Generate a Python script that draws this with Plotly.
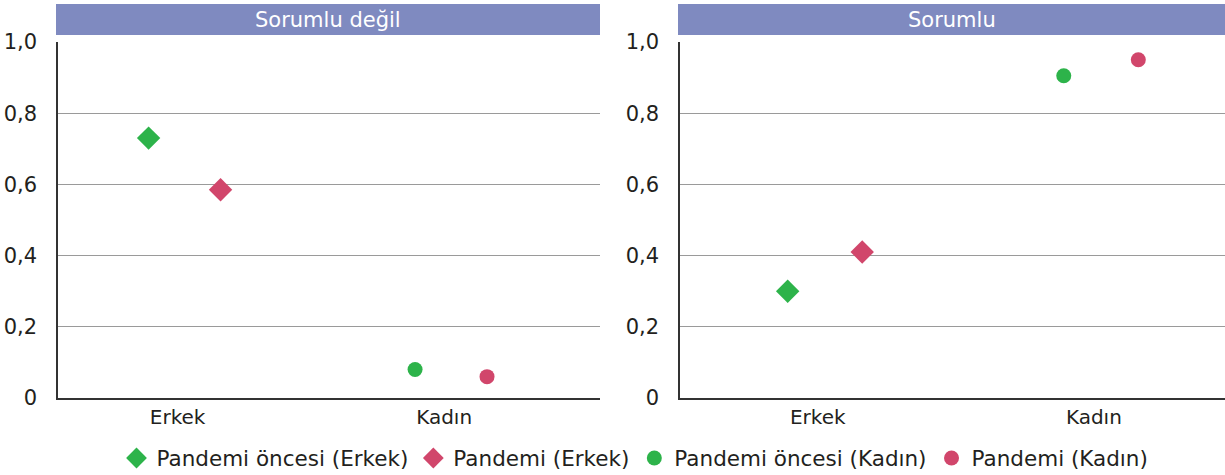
import plotly.graph_objects as go
from plotly.subplots import make_subplots

panels = ["Sorumlu değil", "Sorumlu"]
categories = ["Erkek", "Kadın"]
series_names = ["Pandemi öncesi (Erkek)", "Pandemi (Erkek)", "Pandemi öncesi (Kadın)", "Pandemi (Kadın)"]
pre_erkek = [0.73, 0.30]
pan_erkek = [0.585, 0.41]
pre_kadin = [0.08, 0.905]
pan_kadin = [0.06, 0.95]
y_ticks = [0, 0.2, 0.4, 0.6, 0.8, 1.0]
y_ticktext = ["0", "0,2", "0,4", "0,6", "0,8", "1,0"]

GREEN = "#2db34a"
RED = "#d1466b"
HEADER = "#7f8ac0"
FONT = "DejaVu Sans"
TXT = "#231f20"

W, H = 1225, 475
TOP, BOT = 42, 398
LEFT = 58
plot_h = BOT - TOP
plot_w = W - LEFT

def py(pix):
    return (BOT - pix) / plot_h

def px(pix):
    return (pix - LEFT) / plot_w

fig = make_subplots(rows=1, cols=2)

series = [
    (series_names[0], pre_erkek, 0, -1, GREEN, "diamond", 18),
    (series_names[1], pan_erkek, 0, 1, RED, "diamond", 18),
    (series_names[2], pre_kadin, 1, -1, GREEN, "circle", 15),
    (series_names[3], pan_kadin, 1, 1, RED, "circle", 15),
]
dodge = 0.135
for p in range(2):
    for name, vals, cat, side, col, sym, sz in series:
        fig.add_trace(go.Scatter(
            x=[cat + side * dodge], y=[vals[p]], mode="markers", name=name,
            legendgroup=name, showlegend=(p == 0),
            marker=dict(color=col, symbol=sym, size=sz, line=dict(width=0)),
        ), row=1, col=p + 1)

doms = [(px(58), px(600)), (px(680), 1.0)]
ranges = [(-0.475, 1.559), (-0.525, 1.449)]
label_shift = 0.026
for i in range(2):
    xa = "xaxis" if i == 0 else "xaxis2"
    ya = "yaxis" if i == 0 else "yaxis2"
    fig.layout[xa].update(domain=list(doms[i]), range=list(ranges[i]),
                          tickvals=[k - label_shift for k in range(len(categories))],
                          ticktext=categories, showgrid=False, zeroline=False,
                          showline=True, linecolor="#333333", linewidth=1.5,
                          ticks="", tickfont=dict(size=20, color=TXT, family=FONT),
                          automargin=False, fixedrange=True)
    fig.layout[ya].update(domain=[0, 1], range=[0, 1.0], tickvals=y_ticks, ticktext=y_ticktext,
                          showgrid=True, gridcolor="#9a9a9a", gridwidth=1, zeroline=False,
                          showline=True, linecolor="#333333", linewidth=1.5, ticks="",
                          ticklabelstandoff=15, automargin=False, fixedrange=True,
                          tickfont=dict(size=21, color=TXT, family=FONT))
    x0 = doms[i][0] - 2 / plot_w
    x1 = doms[i][1]
    fig.add_shape(type="rect", xref="paper", yref="paper", x0=x0, x1=x1,
                  y0=py(35), y1=py(4), fillcolor=HEADER, line=dict(width=0), layer="below")
    fig.add_annotation(xref="paper", yref="paper", x=(x0 + x1) / 2, y=py(19.5),
                       text=panels[i], showarrow=False, xanchor="center", yanchor="middle",
                       font=dict(size=21, color="white", family=FONT))

fig.update_layout(
    width=W, height=H,
    margin=dict(l=LEFT, r=0, t=TOP, b=H - BOT, autoexpand=False),
    paper_bgcolor="white", plot_bgcolor="white",
    showlegend=True,
    legend=dict(orientation="h", x=px(635), xanchor="center", y=py(458), yanchor="middle",
                font=dict(size=21.5, color=TXT, family=FONT), itemsizing="trace",
                traceorder="normal", tracegroupgap=0),
)

fig.write_html("out.html", config={"displayModeBar": False},
               post_script="document.body.style.margin='0px';document.body.style.padding='0px';")
